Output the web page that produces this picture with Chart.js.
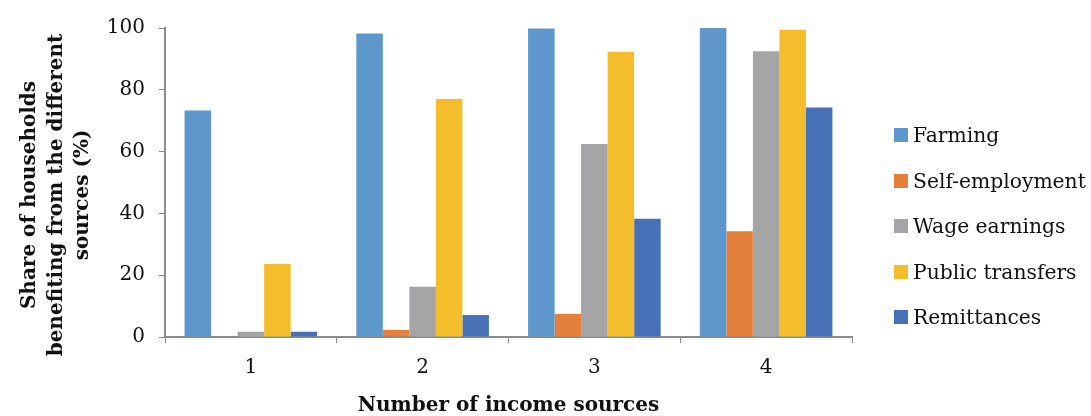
<!DOCTYPE html>
<html>
<head>
<meta charset="utf-8">
<script src="https://cdn.jsdelivr.net/npm/chart.js@4/dist/chart.umd.min.js"></script>
<style>
  html, body { margin: 0; padding: 0; background: #fff; }
  #wrap { position: relative; width: 1091px; height: 416px; }
  #legend { position: absolute; left: 894px; top: 0; font-family: "DejaVu Serif", serif; font-size: 20.3px; color: #111; }
  .item { position: absolute; left: 0; white-space: nowrap; display: flex; align-items: center; height: 26px; }
  .box { width: 14px; height: 14px; margin-right: 5px; flex: none; }
</style>
</head>
<body>
<div id="wrap">
  <canvas id="chart" width="1091" height="416"></canvas>
  <div id="legend"></div>
</div>
<script>
// Share of households (%) receiving each income source, by number of sources
const categories = ['1', '2', '3', '4'];
const seriesNames = ['Farming', 'Self-employment', 'Wage earnings', 'Public transfers', 'Remittances'];
const farming = [73.3, 98.2, 99.8, 100];
const selfEmployment = [0, 2.3, 7.5, 34.2];
const wageEarnings = [1.7, 16.3, 62.5, 92.5];
const publicTransfers = [23.6, 77.0, 92.3, 99.4];
const remittances = [1.7, 7.1, 38.3, 74.3];
const yTicks = [0, 20, 40, 60, 80, 100];
const yTitleLines = ['Share of households', 'benefiting from the different', 'sources (%)'];

const colors = ['#5E97CB', '#E57F3C', '#A5A5A8', '#F4BD2C', '#4671B6'];
const seriesValues = [farming, selfEmployment, wageEarnings, publicTransfers, remittances];

const axisColor = '#8C8C8C';
const serif = '"DejaVu Serif", serif';

// Rotated three-line title for the value axis, sitting slightly below the axis middle
const yTitlePlugin = {
  id: 'yTitle',
  afterDraw(chart) {
    const { ctx, chartArea } = chart;
    const lineGap = 26.5;
    const firstX = chartArea.left - 135;
    const centerY = (chartArea.top + chartArea.bottom) / 2 + 12.5;
    ctx.save();
    ctx.fillStyle = '#111';
    ctx.font = 'bold 20px ' + serif;
    ctx.textAlign = 'center';
    ctx.textBaseline = 'middle';
    yTitleLines.forEach((line, i) => {
      ctx.save();
      ctx.translate(firstX + i * lineGap, centerY);
      ctx.rotate(-Math.PI / 2);
      ctx.fillText(line, 0, 0);
      ctx.restore();
    });
    ctx.restore();
  }
};

const chart = new Chart(document.getElementById('chart'), {
  type: 'bar',
  data: {
    labels: categories,
    datasets: seriesNames.map((name, i) => ({
      label: name,
      data: seriesValues[i],
      backgroundColor: colors[i],
      borderWidth: 0,
      categoryPercentage: 0.772,
      barPercentage: 1.0
    }))
  },
  options: {
    responsive: false,
    animation: false,
    layout: { padding: { top: 28, right: 239, bottom: 0, left: 0 } },
    plugins: {
      legend: { display: false },
      tooltip: { enabled: false }
    },
    scales: {
      x: {
        grid: { display: true, drawOnChartArea: false, drawTicks: true, tickLength: 6, color: axisColor, offset: true },
        border: { display: true, color: axisColor, width: 2 },
        ticks: { color: '#111', font: { family: serif, size: 20 }, padding: 13 },
        title: {
          display: true,
          text: 'Number of income sources',
          color: '#111',
          font: { family: serif, size: 20, weight: 'bold' },
          padding: { top: 10, bottom: -2 }
        },
        afterFit: (scale) => { scale.height = 79; }
      },
      y: {
        min: 0,
        max: 100,
        afterBuildTicks: (scale) => { scale.ticks = yTicks.map(v => ({ value: v })); },
        grid: { display: true, drawOnChartArea: false, drawTicks: true, tickLength: 6, color: axisColor },
        border: { display: true, color: axisColor, width: 2 },
        ticks: { color: '#111', font: { family: serif, size: 20 }, padding: 14 },
        afterFit: (scale) => { scale.width = 165; }
      }
    }
  },
  plugins: [yTitlePlugin]
});

// Legend column to the right of the plot
const legend = document.getElementById('legend');
const firstRowCenter = 135;
const rowGap = 45.5;
chart.data.datasets.forEach((ds, i) => {
  const item = document.createElement('div');
  item.className = 'item';
  item.style.top = (firstRowCenter + i * rowGap - 13) + 'px';
  const box = document.createElement('span');
  box.className = 'box';
  box.style.background = ds.backgroundColor;
  const txt = document.createElement('span');
  txt.textContent = ds.label;
  item.appendChild(box);
  item.appendChild(txt);
  legend.appendChild(item);
});
</script>
</body>
</html>
